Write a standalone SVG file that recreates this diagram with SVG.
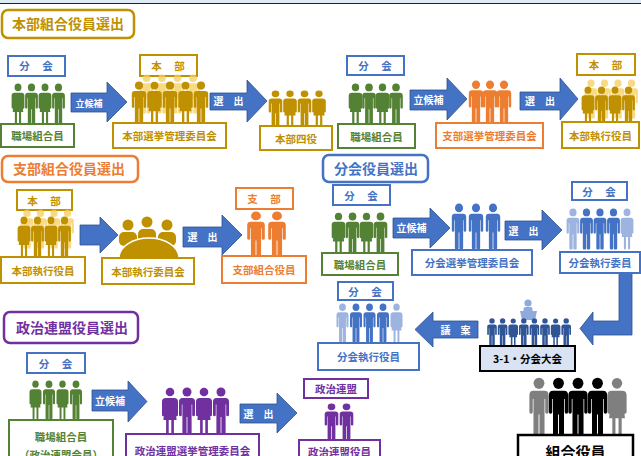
<svg xmlns="http://www.w3.org/2000/svg" xmlns:xlink="http://www.w3.org/1999/xlink" width="641" height="456" viewBox="0 0 641 456">
  <style>
    text { font-family: "Noto Sans CJK JP", "Noto Sans", sans-serif; font-weight: 700; text-anchor: middle; }
    .bx { fill: #fff; stroke-width: 2; }
    .ttl { fill: #fff; stroke-width: 2.5; }
    .tt { font-size: 14px; text-anchor: start; }
    .lb { font-size: 10.5px; }
    .sp { letter-spacing: 1px; }
    .at { fill: #fff; font-size: 10px; }
    .gr { stroke: #548235; } .grf { fill: #548235; }
    .au { stroke: #BF9000; } .auf { fill: #BF9000; }
    .bl { stroke: #4472C4; } .blf { fill: #4472C4; }
    .or { stroke: #ED7D31; } .orf { fill: #ED7D31; }
    .pu { stroke: #7030A0; } .puf { fill: #7030A0; }
    .auL { fill: #F7CE5B; opacity: 0.75; }
    .blL { fill: #9DB4E0; }
    .dk { fill: #2F5597; }
    .arr { fill: #4472C4; stroke: #2F528F; stroke-width: 0.8; }
  </style>
  <defs>
    <!-- standing figure, trousers -->
    <symbol id="pm" viewBox="0 0 20 48" preserveAspectRatio="none">
      <circle cx="10" cy="5" r="4.5"/>
      <path d="M5.5,11 H14.5 Q18,11 18,14.5 V28 Q18,29.3 16.6,29.3 Q15.2,29.3 15.2,28 V17.5 H14.6 V46 Q14.6,47.5 13.2,47.5 H11.6 Q10.4,47.5 10.4,46 V30 H9.6 V46 Q9.6,47.5 8.4,47.5 H6.8 Q5.4,47.5 5.4,46 V17.5 H4.8 V28 Q4.8,29.3 3.4,29.3 Q2,29.3 2,28 V14.5 Q2,11 5.5,11 Z"/>
    </symbol>
    <!-- standing figure, skirt -->
    <symbol id="pf" viewBox="0 0 20 48" preserveAspectRatio="none">
      <circle cx="10" cy="5" r="4.3"/>
      <path d="M5.8,11 H14.2 Q18,11 18,14.5 V28 Q18,29.3 16.6,29.3 Q15.2,29.3 15.2,28 V19 L16.6,33 H13.9 V46 Q13.9,47.5 12.6,47.5 Q11.3,47.5 11.3,46 V33 H8.7 V46 Q8.7,47.5 7.4,47.5 Q6.1,47.5 6.1,46 V33 H3.4 L4.8,19 V28 Q4.8,29.3 3.4,29.3 Q2,29.3 2,28 V14.5 Q2,11 5.8,11 Z"/>
    </symbol>
  </defs>

  <!-- header strip -->
  <rect x="0" y="0" width="641" height="3" fill="#DEEBF7"/>
  <line x1="0" y1="3.5" x2="641" y2="3.5" stroke="#222" stroke-width="1.2"/>

  <!-- ===== section headings ===== -->
  <g id="title-honbu">
    <rect class="ttl au" x="2" y="10" width="132" height="28" rx="6"/>
    <text class="tt auf" x="12" y="29">本部組合役員選出</text>
  </g>
  <g id="title-shibu">
    <rect class="ttl or" x="2" y="156" width="136" height="26" rx="6"/>
    <text class="tt orf" x="13" y="174">支部組合役員選出</text>
  </g>
  <g id="title-bunkai">
    <rect class="ttl bl" x="323" y="155" width="105" height="27" rx="6"/>
    <text class="tt blf" x="334" y="174">分会役員選出</text>
  </g>
  <g id="title-renmei">
    <rect class="ttl pu" x="4" y="312" width="134" height="31" rx="6"/>
    <text class="tt puf" x="16" y="333">政治連盟役員選出</text>
  </g>

  <!-- ===== connectors ===== -->
  <g id="connectors">
    <path class="arr" d="M71,93 H107 V82 L127,102 L107,122 V112 H71 Z"/>
    <text class="at" x="89" y="106.5" style="font-size:9px">立候補</text>
    <path class="arr" d="M210,93 H247 V80 L267,101 L247,122 V110 H210 Z"/>
    <text class="at" x="228.5" y="105">選　出</text>
    <path class="arr" d="M410,90 H447 V78 L467,99 L447,120 V110 H410 Z"/>
    <text class="at" x="428.5" y="104">立候補</text>
    <path class="arr" d="M520,92 H560 V78 L578,99 L560,120 V110 H520 Z"/>
    <text class="at" x="540" y="105">選　出</text>

    <path class="arr" d="M80,225 H100 V217 L118,235 L100,253 V245 H80 Z"/>
    <path class="arr" d="M183,227 H222 V215 L242,235 L222,255 V247 H183 Z"/>
    <text class="at" x="202.5" y="241">選　出</text>

    <path class="arr" d="M393,218 H430 V208 L450,228 L430,248 V238 H393 Z"/>
    <text class="at" x="411.5" y="232">立候補</text>
    <path class="arr" d="M505,221 H542 V210 L562,230 L542,250 V240 H505 Z"/>
    <text class="at" x="523.5" y="235">選　出</text>
    <path class="arr" d="M619,273 H632 V335 H593 V345 L580,328.5 L593,312 V321 H619 Z"/>
    <path class="arr" d="M478,321 H433 V312 L415,329.5 L433,347 V338 H478 Z"/>
    <text class="at" x="455.5" y="334">議　案</text>

    <path class="arr" d="M92,390 H128 V381 L147,401.5 L128,422 V411 H92 Z"/>
    <text class="at" x="110" y="405">立候補</text>
    <path class="arr" d="M240,404 H277 V393 L297,413 L277,433 V423 H240 Z"/>
    <text class="at" x="258.5" y="418">選　出</text>
  </g>

  <!-- ===== 本部組合役員選出 ===== -->
  <g id="n-bunkai-1">
    <rect class="bx bl" x="8" y="56" width="57" height="20"/>
    <text class="lb blf sp" x="36.5" y="70">分　会</text>
    <g class="grf">
      <use href="#pf" x="10" y="83" width="16" height="42"/>
      <use href="#pm" x="23.5" y="83" width="16" height="42"/>
      <use href="#pf" x="37" y="83" width="16" height="42"/>
      <use href="#pm" x="50.5" y="83" width="16" height="42"/>
    </g>
    <rect class="bx gr" x="1" y="124" width="73" height="23"/>
    <text class="lb grf" x="37.5" y="140">職場組合員</text>
  </g>

  <g id="n-honbu-senkan">
    <rect class="bx au" x="140" y="55" width="57" height="21"/>
    <text class="lb auf sp" x="168.5" y="70">本　部</text>
    <g class="auL">
      <use href="#pm" x="138" y="74" width="17" height="40"/>
      <use href="#pm" x="153.5" y="74" width="17" height="40"/>
      <use href="#pm" x="169" y="74" width="17" height="40"/>
      <use href="#pm" x="184.5" y="74" width="17" height="40"/>
    </g>
    <g class="auf">
      <use href="#pm" x="130" y="81" width="18" height="44"/>
      <use href="#pf" x="145.5" y="81" width="18" height="44"/>
      <use href="#pm" x="161" y="81" width="18" height="44"/>
      <use href="#pf" x="176.5" y="81" width="18" height="44"/>
      <use href="#pm" x="192" y="81" width="18" height="44"/>
    </g>
    <rect class="bx au" x="113" y="123" width="113" height="25"/>
    <text class="lb auf" x="169.5" y="140">本部選挙管理委員会</text>
  </g>

  <g id="n-honbu-yonyaku">
    <g class="auf">
      <use href="#pm" x="267" y="90" width="17" height="37"/>
      <use href="#pf" x="281.5" y="90" width="17" height="37"/>
      <use href="#pm" x="296" y="90" width="17" height="37"/>
      <use href="#pf" x="310.5" y="90" width="17" height="37"/>
    </g>
    <rect class="bx au" x="260" y="126" width="72" height="24"/>
    <text class="lb auf" x="296" y="142.5">本部四役</text>
  </g>

  <g id="n-bunkai-2">
    <rect class="bx bl" x="347" y="56" width="57" height="19"/>
    <text class="lb blf sp" x="375.5" y="70">分　会</text>
    <g class="grf">
      <use href="#pf" x="347" y="83" width="17" height="42"/>
      <use href="#pm" x="360.5" y="83" width="17" height="42"/>
      <use href="#pf" x="374" y="83" width="17" height="42"/>
      <use href="#pm" x="387.5" y="83" width="17" height="42"/>
    </g>
    <rect class="bx gr" x="338" y="124" width="77" height="24"/>
    <text class="lb grf" x="376.5" y="141">職場組合員</text>
  </g>

  <g id="n-shibu-senkan">
    <g class="orf">
      <use href="#pm" x="467" y="80" width="18" height="45"/>
      <use href="#pm" x="481" y="80" width="18" height="45"/>
      <use href="#pm" x="495" y="80" width="18" height="45"/>
    </g>
    <rect class="bx or" x="436" y="123" width="107" height="25"/>
    <text class="lb orf" x="489.5" y="140">支部選挙管理委員会</text>
  </g>

  <g id="n-honbu-shikko-1">
    <rect class="bx au" x="577" y="54" width="58" height="21"/>
    <text class="lb auf sp" x="606" y="69">本　部</text>
    <g class="auL">
      <use href="#pm" x="583" y="79" width="16" height="40"/>
      <use href="#pm" x="596.5" y="79" width="16" height="40"/>
      <use href="#pm" x="610" y="79" width="16" height="40"/>
      <use href="#pm" x="623.5" y="79" width="16" height="40"/>
    </g>
    <g class="auf">
      <use href="#pf" x="580" y="86" width="16" height="40"/>
      <use href="#pm" x="593.5" y="86" width="16" height="40"/>
      <use href="#pf" x="607" y="86" width="16" height="40"/>
      <use href="#pm" x="620.5" y="86" width="16" height="40"/>
    </g>
    <rect class="bx au" x="562" y="122" width="77" height="26"/>
    <text class="lb auf" x="600.5" y="140">本部執行役員</text>
  </g>

  <!-- ===== 支部組合役員選出 ===== -->
  <g id="n-honbu-shikko-2">
    <rect class="bx au" x="17" y="190" width="55" height="20"/>
    <text class="lb auf sp" x="44.5" y="205">本　部</text>
    <g class="auL">
      <use href="#pm" x="19" y="209" width="16" height="40"/>
      <use href="#pm" x="32.5" y="209" width="16" height="40"/>
      <use href="#pm" x="46" y="209" width="16" height="40"/>
      <use href="#pm" x="59.5" y="209" width="16" height="40"/>
    </g>
    <g class="auf">
      <use href="#pf" x="16" y="216" width="16" height="42"/>
      <use href="#pm" x="29.5" y="216" width="16" height="42"/>
      <use href="#pf" x="43" y="216" width="16" height="42"/>
      <use href="#pm" x="56.5" y="216" width="16" height="42"/>
    </g>
    <rect class="bx au" x="1" y="257" width="84" height="26"/>
    <text class="lb auf" x="43" y="275">本部執行役員</text>
  </g>

  <g id="n-honbu-shikko-iinkai">
    <g class="auf">
      <circle cx="128" cy="225" r="5.5"/>
      <circle cx="147" cy="222" r="5.5"/>
      <circle cx="167" cy="225" r="5.5"/>
      <rect x="119" y="232" width="18" height="14" rx="5"/>
      <rect x="138" y="229" width="18" height="14" rx="5"/>
      <rect x="158" y="232" width="18" height="14" rx="5"/>
      <path d="M119,258 A30,20 0 0 1 179,258 Z" stroke="#fff" stroke-width="1.5"/>
    </g>
    <rect class="bx au" x="102" y="258" width="92" height="26"/>
    <text class="lb auf" x="148" y="276">本部執行委員会</text>
  </g>

  <g id="n-shibu-yakuin">
    <rect class="bx or" x="236" y="188" width="57" height="21"/>
    <text class="lb orf sp" x="264.5" y="203">支　部</text>
    <g class="orf">
      <use href="#pm" x="245" y="211" width="22" height="47"/>
      <use href="#pm" x="266" y="211" width="22" height="47"/>
    </g>
    <rect class="bx or" x="222" y="256" width="84" height="27"/>
    <text class="lb orf" x="264" y="274">支部組合役員</text>
  </g>

  <!-- ===== 分会役員選出 ===== -->
  <g id="n-bunkai-3">
    <rect class="bx bl" x="333" y="185" width="57" height="20"/>
    <text class="lb blf sp" x="361.5" y="200">分　会</text>
    <g class="grf">
      <use href="#pf" x="330" y="212" width="17" height="43"/>
      <use href="#pm" x="344" y="212" width="17" height="43"/>
      <use href="#pf" x="358" y="212" width="17" height="43"/>
      <use href="#pm" x="372" y="212" width="17" height="43"/>
    </g>
    <rect class="bx gr" x="322" y="253" width="76" height="22"/>
    <text class="lb grf" x="360" y="269">職場組合員</text>
  </g>

  <g id="n-bunkai-senkan">
    <g class="blf">
      <use href="#pm" x="450" y="203" width="18" height="47"/>
      <use href="#pm" x="467" y="203" width="18" height="47"/>
      <use href="#pm" x="484" y="203" width="18" height="47"/>
    </g>
    <rect class="bx bl" x="412" y="250" width="120" height="25"/>
    <text class="lb blf" x="472" y="267">分会選挙管理委員会</text>
  </g>

  <g id="n-bunkai-shikko-iin">
    <rect class="bx bl" x="572" y="182" width="55" height="18"/>
    <text class="lb blf sp" x="599.5" y="196">分　会</text>
    <use class="blL" href="#pm" x="565" y="208" width="16" height="42"/>
    <use class="blL" href="#pf" x="619" y="208" width="16" height="42"/>
    <g class="blf">
      <use href="#pm" x="578.5" y="208" width="16" height="42"/>
      <use href="#pm" x="592" y="208" width="16" height="42"/>
      <use href="#pm" x="605.5" y="208" width="16" height="42"/>
    </g>
    <rect class="bx bl" x="560" y="252" width="80" height="21"/>
    <text class="lb blf" x="600" y="267">分会執行委員</text>
  </g>

  <g id="n-bunkai-taikai">
    <g fill="#8FAADC">
      <circle cx="528" cy="303" r="3.6"/>
      <rect x="523.5" y="307" width="9" height="6" rx="2"/>
      <path d="M520,311 H537 L535,320 H522 Z"/>
    </g>
    <g class="dk">
      <use href="#pm" x="486" y="318" width="12" height="28"/>
      <use href="#pm" x="496.6" y="318" width="12" height="28"/>
      <use href="#pf" x="507.2" y="318" width="12" height="28"/>
      <use href="#pm" x="517.8" y="318" width="12" height="28"/>
      <use href="#pm" x="528.4" y="318" width="12" height="28"/>
      <use href="#pm" x="539" y="318" width="12" height="28"/>
      <use href="#pf" x="549.6" y="318" width="12" height="28"/>
      <use href="#pm" x="560.2" y="318" width="12" height="28"/>
    </g>
    <rect x="480" y="346" width="95" height="25" fill="#DAE3F3" stroke="#000" stroke-width="2"/>
    <text x="527.5" y="363" style="font-size:10.5px" fill="#000">3-1・分会大会</text>
  </g>

  <g id="n-bunkai-shikko-yakuin">
    <rect class="bx bl" x="338" y="282" width="55" height="18"/>
    <text class="lb blf sp" x="365.5" y="296">分　会</text>
    <use class="blL" href="#pm" x="335" y="303" width="15" height="40"/>
    <use class="blL" href="#pf" x="389" y="303" width="15" height="40"/>
    <g class="blf">
      <use href="#pm" x="348.5" y="303" width="15" height="40"/>
      <use href="#pm" x="362" y="303" width="15" height="40"/>
      <use href="#pm" x="375.5" y="303" width="15" height="40"/>
    </g>
    <rect class="bx bl" x="318" y="343" width="101" height="27"/>
    <text class="lb blf" x="368.5" y="361">分会執行役員</text>
  </g>

  <g id="n-kumiai-yakuin">
    <use href="#pm" x="527" y="377" width="24" height="60" fill="#7F7F7F"/>
    <use href="#pf" x="605" y="377" width="24" height="60" fill="#7F7F7F"/>
    <g fill="#000">
      <use href="#pm" x="546.5" y="377" width="24" height="60"/>
      <use href="#pm" x="566" y="377" width="24" height="60"/>
      <use href="#pm" x="585.5" y="377" width="24" height="60"/>
    </g>
    <rect x="518" y="435" width="115" height="30" fill="#fff" stroke="#000" stroke-width="2.5"/>
    <text x="575.5" y="458" style="font-size:15px" fill="#000">組合役員</text>
  </g>

  <!-- ===== 政治連盟役員選出 ===== -->
  <g id="n-bunkai-4">
    <rect class="bx bl" x="27" y="353" width="58" height="20"/>
    <text class="lb blf sp" x="56" y="368">分　会</text>
    <g class="grf">
      <use href="#pf" x="28" y="380" width="15" height="40"/>
      <use href="#pm" x="41.5" y="380" width="15" height="40"/>
      <use href="#pf" x="55" y="380" width="15" height="40"/>
      <use href="#pm" x="68.5" y="380" width="15" height="40"/>
    </g>
    <rect class="bx gr" x="9" y="420" width="104" height="50"/>
    <text class="lb grf" x="61" y="441">職場組合員</text>
    <text class="lb grf" x="61" y="459">（政治連盟会員）</text>
  </g>

  <g id="n-renmei-senkan">
    <g class="puf">
      <use href="#pf" x="160" y="387" width="20" height="48"/>
      <use href="#pm" x="177" y="387" width="20" height="48"/>
      <use href="#pf" x="194" y="387" width="20" height="48"/>
      <use href="#pm" x="211" y="387" width="20" height="48"/>
    </g>
    <rect class="bx pu" x="126" y="434" width="133" height="36"/>
    <text class="lb puf" x="192.5" y="455">政治連盟選挙管理委員会</text>
  </g>

  <g id="n-renmei-yakuin">
    <rect class="bx pu" x="304" y="379" width="64" height="19"/>
    <text class="lb puf" x="336" y="393">政治連盟</text>
    <g class="puf">
      <use href="#pm" x="323" y="403" width="17" height="37"/>
      <use href="#pm" x="338" y="403" width="17" height="37"/>
    </g>
    <rect class="bx pu" x="299" y="440" width="81" height="30"/>
    <text class="lb puf" x="339.5" y="456">政治連盟役員</text>
  </g>
</svg>
